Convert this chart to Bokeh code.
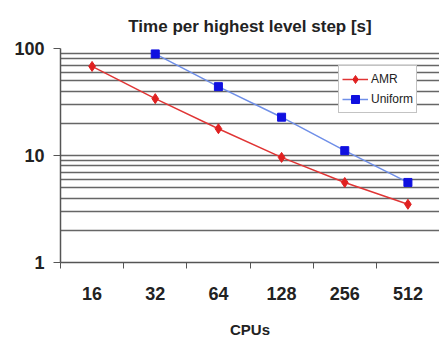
from bokeh.plotting import figure
from bokeh.models import FixedTicker, Range1d, NumeralTickFormatter, Legend, LegendItem
from bokeh.embed import file_html
from bokeh.resources import INLINE

categories = ["16", "32", "64", "128", "256", "512"]
amr = [68, 34, 17.8, 9.6, 5.6, 3.5]
uniform_cats = ["32", "64", "128", "256", "512"]
uniform = [89, 44, 22.8, 11.1, 5.6]

FONT = "Liberation Sans"

xa = [categories.index(c) + 0.5 for c in categories]
xu = [categories.index(c) + 0.5 for c in uniform_cats]

p = figure(width=439, height=341, y_axis_type="log", output_backend="svg",
           toolbar_location=None, x_range=Range1d(0, len(categories)),
           y_range=Range1d(1, 100),
           min_border_left=60, min_border_right=0, min_border_top=48, min_border_bottom=79)
p.outline_line_color = None
p.background_fill_color = "white"
p.border_fill_color = "white"

p.title.text = "Time per highest level step [s]"
p.title.text_font = FONT
p.title.text_font_size = "17px"
p.title.text_font_style = "bold"
p.title.align = "center"
p.title.text_color = "#222222"
p.title.standoff = 25

# x axis
xt = FixedTicker(ticks=xa, minor_ticks=list(range(len(categories) + 1)))
p.xaxis.ticker = xt
p.xaxis.major_label_overrides = {x: c for x, c in zip(xa, categories)}
p.xaxis.major_tick_line_color = None
p.xaxis.major_tick_out = 6
p.xaxis.minor_tick_in = 0
p.xaxis.minor_tick_out = 6
p.xaxis.minor_tick_line_color = "#555555"
p.xaxis.axis_line_color = "#555555"
p.xaxis.axis_line_width = 1.5
p.xaxis.major_label_text_font = FONT
p.xaxis.major_label_text_font_size = "18px"
p.xaxis.major_label_text_font_style = "bold"
p.xaxis.major_label_text_color = "#222222"
p.xaxis.major_label_standoff = 18
p.xaxis.axis_label = "CPUs"
p.xaxis.axis_label_text_font = FONT
p.xaxis.axis_label_text_font_size = "15px"
p.xaxis.axis_label_text_font_style = "bold"
p.xaxis.axis_label_text_color = "#222222"
p.xaxis.axis_label_standoff = 18

# y axis
yt = FixedTicker(ticks=[1, 10, 100],
                 minor_ticks=[2, 3, 4, 5, 6, 7, 8, 9, 20, 30, 40, 50, 60, 70, 80, 90])
p.yaxis.ticker = yt
p.yaxis.formatter = NumeralTickFormatter(format="0")
p.yaxis.minor_tick_line_color = None
p.yaxis.major_tick_in = 0
p.yaxis.major_tick_out = 7
p.yaxis.major_tick_line_color = "#555555"
p.yaxis.axis_line_color = "#555555"
p.yaxis.axis_line_width = 1.5
p.yaxis.major_label_text_font = FONT
p.yaxis.major_label_text_font_size = "18px"
p.yaxis.major_label_text_font_style = "bold"
p.yaxis.major_label_text_color = "#222222"
p.yaxis.major_label_standoff = 9

p.xgrid.grid_line_color = None
p.ygrid.grid_line_color = "#666666"
p.ygrid.grid_line_width = 1.5
p.ygrid.minor_grid_line_color = "#666666"
p.ygrid.minor_grid_line_width = 1.5

l1 = p.line(xa, amr, line_color="#e03535", line_width=1.5)
s1 = p.scatter(xa, amr, marker="diamond", size=10, fill_color="#e02020", line_color="#e02020")
l2 = p.line(xu, uniform, line_color="#6f8fe8", line_width=1.5)
s2 = p.scatter(xu, uniform, marker="square", size=8, fill_color="#1010e0", line_color="#1010e0")

legend = Legend(items=[LegendItem(label="AMR", renderers=[l1, s1]),
                       LegendItem(label="Uniform", renderers=[l2, s2])],
                location=(278, 149))
legend.label_text_font = FONT
legend.label_text_font_size = "12px"
legend.label_text_color = "#222222"
legend.border_line_color = "#888888"
legend.border_line_width = 1.5
legend.background_fill_color = "white"
legend.background_fill_alpha = 1
legend.padding = 3
legend.spacing = 0
legend.margin = 0
legend.glyph_width = 26
legend.glyph_height = 20
legend.label_standoff = 3
legend.label_height = 16
p.add_layout(legend)

open("out.html", "w").write(file_html(p, INLINE))
